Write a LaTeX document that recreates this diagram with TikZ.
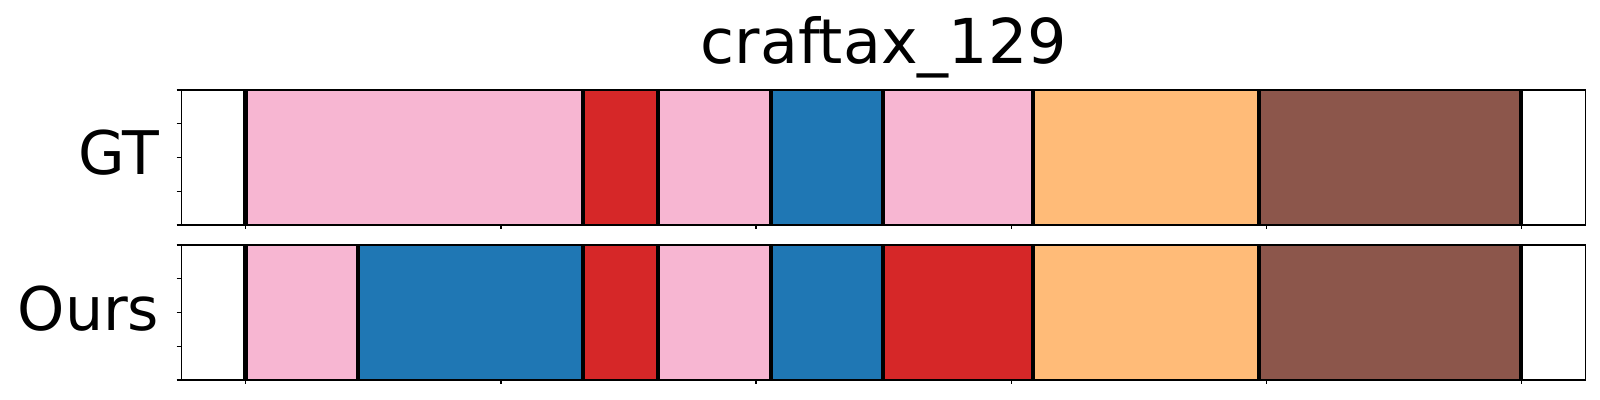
\documentclass[tikz,border=0pt]{standalone}
\usepackage{fontspec}
\setmainfont{DejaVu Sans}
\definecolor{segpink}{HTML}{F7B6D2}
\definecolor{segred}{HTML}{D62728}
\definecolor{segblue}{HTML}{1F77B4}
\definecolor{segorange}{HTML}{FFBB78}
\definecolor{segbrown}{HTML}{8C564B}
\tikzstyle{bound} = [line width=1.25pt,black]
\tikzstyle{frame} = [line width=0.35pt,black]
\tikzstyle{lbl} = [font=\fontsize{17.6}{20}\selectfont,inner sep=0pt]
\tikzstyle{rowlbl} = [font=\fontsize{17.1}{20}\selectfont,inner sep=0pt]

\begin{document}
\begin{tikzpicture}[x=0.01cm,y=-0.01cm]
\useasboundingbox (0,0) rectangle (1600,400);
\node[lbl,anchor=base] (title) at (883.7,63) {craftax\_129};
% GT row
\fill[segpink] (245,90) rectangle (583,225);
\fill[segred] (583,90) rectangle (658,225);
\fill[segpink] (658,90) rectangle (771,225);
\fill[segblue] (771,90) rectangle (882.7,225);
\fill[segpink] (882.7,90) rectangle (1033,225);
\fill[segorange] (1033,90) rectangle (1259,225);
\fill[segbrown] (1259,90) rectangle (1521,225);
\foreach \b in {245.5,583,658,771,882.7,1033,1259,1521}
  \draw[bound] (\b,90) -- (\b,225);
\draw[frame] (181.7,90) rectangle (1585.7,225);
\node[rowlbl,anchor=base east] (gt) at (160,174) {GT};
% Ours row
\fill[segpink] (245,245) rectangle (358,380);
\fill[segblue] (358,245) rectangle (583,380);
\fill[segred] (583,245) rectangle (658,380);
\fill[segpink] (658,245) rectangle (771,380);
\fill[segblue] (771,245) rectangle (882.7,380);
\fill[segred] (882.7,245) rectangle (1033,380);
\fill[segorange] (1033,245) rectangle (1259,380);
\fill[segbrown] (1259,245) rectangle (1521,380);
\foreach \b in {245.5,358,583,658,771,882.7,1033,1259,1521}
  \draw[bound] (\b,245) -- (\b,380);
\draw[frame] (181.7,245) rectangle (1585.7,380);
\node[rowlbl,anchor=base east] (ours) at (160,330) {Ours};
% ticks
\foreach \x in {245.7,500.9,756.1,1011.3,1266.5,1521.7} {
  \draw[frame] (\x,225) -- (\x,229);
  \draw[frame] (\x,380) -- (\x,384);
}
\foreach \y in {0,33.75,67.5,101.25,135} {
  \draw[frame] (176.7,90+\y) -- (181.7,90+\y);
  \draw[frame] (176.7,245+\y) -- (181.7,245+\y);
}
\end{tikzpicture}
\end{document}
